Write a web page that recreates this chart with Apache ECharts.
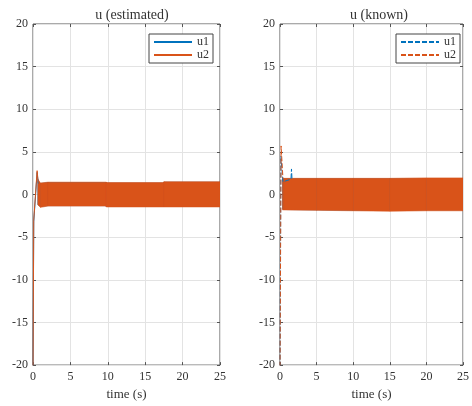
<!DOCTYPE html>
<html>
<head>
<meta charset="utf-8">
<script src="https://cdn.jsdelivr.net/npm/echarts@6/dist/echarts.min.js"></script>
<style>html,body{margin:0;padding:0;background:#fff}#c{width:472px;height:406px}</style>
</head>
<body>
<div id="c"></div>
<script>
// ---------- data ----------
const xTicks = [0, 5, 10, 15, 20, 25];
const yTicks = [-20, -15, -10, -5, 0, 5, 10, 15, 20];
const titles = ['u (estimated)', 'u (known)'];
const xLabel = 'time (s)';
const seriesNames = ['u1', 'u2'];

// left: estimated - initial transients [t, u]
const estU1Trans = [[0, -21], [0.1, -3.2], [0.55, 2.6], [0.7, 1.3]];
const estU2Trans = [[0, -21], [0.1, -3], [0.55, 2.8], [0.7, 1.4]];
// left: envelope of the fast oscillation
const estBandT     = [0.65, 1.0, 2.0, 9.8, 9.8, 17.5, 17.5, 25];
const estU1Upper   = [1.6, 1.3, 1.4, 1.4, 1.35, 1.35, 1.45, 1.45];
const estU1Lower   = [-1.2, -1.4, -1.3, -1.3, -1.4, -1.4, -1.4, -1.4];
const estU2Upper   = [1.8, 1.35, 1.45, 1.45, 1.4, 1.4, 1.5, 1.5];
const estU2Lower   = [-1.2, -1.5, -1.35, -1.35, -1.45, -1.45, -1.45, -1.45];

// right: known - initial transients [t, u]
const knU1Trans = [[0, -21], [0.12, 4.5], [0.4, 1.5], [1.5, 1.8], [1.57, 3.0], [1.64, 1.8]];
const knU2Trans = [[0, -21], [0.15, 5.7], [0.4, 1.9]];
// right: envelope of the fast oscillation
const knBandT   = [0.35, 0.5, 5, 10, 15, 20, 25];
const knU1Upper = [1.8, 1.85, 1.85, 1.85, 1.85, 1.85, 1.85];
const knU1Lower = [-1.7, -1.75, -1.8, -1.85, -1.85, -1.8, -1.8];
const knU2Upper = [1.9, 1.9, 1.9, 1.9, 1.9, 1.95, 1.95];
const knU2Lower = [-1.8, -1.8, -1.85, -1.9, -1.95, -1.9, -1.9];

// ---------- chart ----------
const C1 = '#0072BD', C2 = '#D95319';
const FONT = '"Liberation Serif", "DejaVu Serif", serif';
const TXT = '#333';
const FRAME = '#555';

const grids = [
  {left: 33, right: 252, top: 24, bottom: 38},
  {left: 280, right: 4, top: 24, bottom: 38}
].map(g => Object.assign(g, {show: true, borderColor: FRAME, borderWidth: 1, containLabel: false}));

const xAxes = [], yAxes = [];
[0, 1].forEach(gi => {
  xAxes.push({
    type: 'value', gridIndex: gi, min: 0, max: 25, interval: 5,
    name: xLabel, nameLocation: 'middle', nameGap: 20,
    nameTextStyle: {fontFamily: FONT, fontSize: 13, color: TXT},
    axisLine: {show: false, onZero: false},
    axisTick: {show: true, inside: true, length: 3, lineStyle: {color: FRAME}},
    axisLabel: {fontFamily: FONT, fontSize: 12, color: TXT, margin: 6},
    splitLine: {show: true, lineStyle: {color: '#e3e3e3', width: 1}}
  });
  yAxes.push({
    type: 'value', gridIndex: gi, min: -20, max: 20, interval: 5,
    axisLine: {show: false, onZero: false},
    axisTick: {show: true, inside: true, length: 3, lineStyle: {color: FRAME}},
    axisLabel: {fontFamily: FONT, fontSize: 12, color: TXT, margin: 5},
    splitLine: {show: true, lineStyle: {color: '#e3e3e3', width: 1}}
  });
});
// mirrored ticks (top / right)
[0, 1].forEach(gi => {
  xAxes.push({
    type: 'value', gridIndex: gi, min: 0, max: 25, interval: 5, position: 'top',
    axisLine: {show: false, onZero: false}, axisLabel: {show: false}, splitLine: {show: false},
    axisTick: {show: true, inside: true, length: 3, lineStyle: {color: FRAME}}
  });
  yAxes.push({
    type: 'value', gridIndex: gi, min: -20, max: 20, interval: 5, position: 'right',
    axisLine: {show: false, onZero: false}, axisLabel: {show: false}, splitLine: {show: false},
    axisTick: {show: true, inside: true, length: 3, lineStyle: {color: FRAME}}
  });
});

function lineSeries(name, gi, data, color, dashed) {
  return {
    name, type: 'line', xAxisIndex: gi, yAxisIndex: gi, data,
    symbol: 'none', showSymbol: false, animation: false, clip: true,
    lineStyle: {color, width: 1, type: dashed ? [5, 2] : 'solid'},
    itemStyle: {color}
  };
}
// band between an upper and a lower envelope, drawn segment by segment
function bandSeries(id, gi, t, up, lo, color) {
  const rows = t.map((x, i) => [x, up[i], lo[i]]);
  return {
    name: id, type: 'custom', xAxisIndex: gi, yAxisIndex: gi,
    data: rows, animation: false, silent: true, clip: true,
    encode: {x: 0, y: [1, 2]},
    renderItem: function (params, api) {
      const i = params.dataIndex;
      if (i >= rows.length - 1) return null;
      const a = rows[i], b = rows[i + 1];
      const pts = [
        api.coord([a[0], a[1]]), api.coord([b[0], b[1]]),
        api.coord([b[0], b[2]]), api.coord([a[0], a[2]])
      ];
      return {
        type: 'polygon',
        shape: {points: pts},
        style: {fill: color, stroke: color, lineWidth: 0.6}
      };
    }
  };
}

const series = [
  lineSeries('u1', 0, estU1Trans, C1, false),
  bandSeries('estU1', 0, estBandT, estU1Upper, estU1Lower, C1),
  bandSeries('estU2', 0, estBandT, estU2Upper, estU2Lower, C2),
  lineSeries('u2', 0, estU2Trans, C2, false),

  lineSeries('u1 k', 1, knU1Trans, C1, true),
  bandSeries('knU1', 1, knBandT, knU1Upper, knU1Lower, C1),
  bandSeries('knU2', 1, knBandT, knU2Upper, knU2Lower, C2),
  lineSeries('u2 k', 1, knU2Trans, C2, true)
];

function legend(names, right) {
  return {
    data: names, orient: 'vertical', right, top: 34,
    backgroundColor: '#fff', borderColor: '#444', borderWidth: 1,
    padding: [2, 4, 2, 4], itemGap: 1, itemWidth: 38, itemHeight: 10,
    selectedMode: false,
    itemStyle: {opacity: 0},
    textStyle: {fontFamily: FONT, fontSize: 12, color: TXT},
    formatter: n => n.split(' ')[0]
  };
}

const option = {
  backgroundColor: '#fff',
  animation: false,
  title: titles.map((t, i) => ({
    text: t, left: i === 0 ? 127 : 374, top: 3, textAlign: 'center',
    textStyle: {fontFamily: FONT, fontSize: 14, fontWeight: 'normal', color: TXT}
  })),
  grid: grids,
  xAxis: xAxes,
  yAxis: yAxes,
  legend: [legend(seriesNames, 259), legend(seriesNames.map(n => n + ' k'), 12)],
  series
};

const chart = echarts.init(document.getElementById('c'), null, {renderer: 'canvas'});
chart.setOption(option);
</script>
</body>
</html>
